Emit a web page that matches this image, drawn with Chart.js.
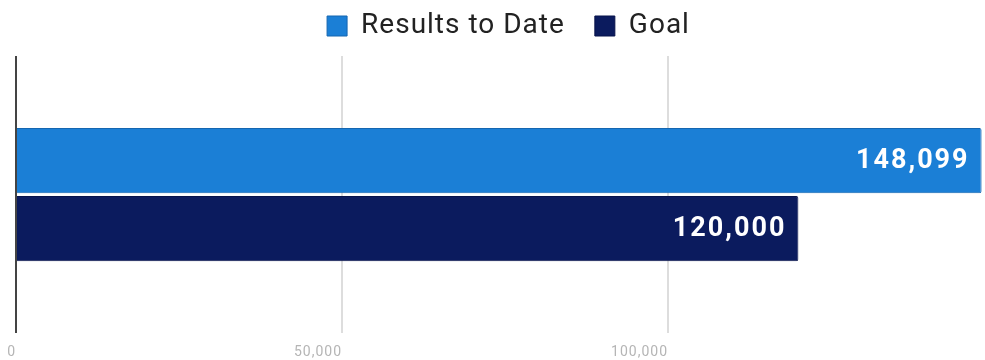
<!DOCTYPE html>
<html>
<head>
<meta charset="utf-8">
<script src="https://cdn.jsdelivr.net/npm/chart.js@4/dist/chart.umd.min.js"></script>
<style>
  html, body { margin: 0; padding: 0; background: #fff; overflow: hidden; }
  #wrap { width: 1012px; height: 360px; position: relative; }
</style>
</head>
<body>
<div id="wrap"><canvas id="c"></canvas></div>
<script>
const categories = ['Total'];
const seriesNames = ['Results to Date', 'Goal'];
const resultsToDate = [148099];
const goal = [120000];
const tickLabels = { 0: '0', 50000: '50,000', 100000: '100,000' };
const axisMax = 150000;

const colors = ['#1b7fd6', '#0b1b5e'];
const borders = ['#1566b0', '#07124a'];

const valueLabels = {
  id: 'valueLabels',
  afterDatasetsDraw(chart) {
    const ctx = chart.ctx;
    ctx.save();
    ctx.letterSpacing = '2px';
    ctx.font = 'bold 27px Roboto';
    ctx.fillStyle = '#ffffff';
    ctx.textAlign = 'right';
    ctx.textBaseline = 'middle';
    chart.data.datasets.forEach((ds, i) => {
      const meta = chart.getDatasetMeta(i);
      meta.data.forEach((bar, j) => {
        const v = ds.data[j];
        ctx.fillText(v.toLocaleString('en-US'), bar.x - 12, bar.y + 1);
      });
    });
    ctx.restore();
  }
};

const spacing = {
  id: 'spacing',
  beforeInit(chart) {
    const orig = chart.legend.fit;
    chart.legend.fit = function () {
      orig.call(this);
      this.height = 74;
    };
  },
  afterLayout(chart) {
    chart.legend.left -= 6;
    chart.legend.right -= 6;
  },
  beforeDraw(chart) {
    chart.ctx.letterSpacing = '1px';
  }
};

new Chart(document.getElementById('c'), {
  type: 'bar',
  data: {
    labels: categories,
    datasets: [
      { label: seriesNames[0], data: resultsToDate, backgroundColor: colors[0], borderColor: borders[0], borderWidth: 1, borderRadius: 2, borderSkipped: 'start' },
      { label: seriesNames[1], data: goal, backgroundColor: colors[1], borderColor: borders[1], borderWidth: 1, borderRadius: 2, borderSkipped: 'start' }
    ]
  },
  options: {
    indexAxis: 'y',
    responsive: true,
    maintainAspectRatio: false,
    animation: false,
    layout: { padding: { left: 16, right: 18, top: -18, bottom: -12 } },
    datasets: { bar: { categoryPercentage: 0.49, barPercentage: 0.96 } },
    plugins: {
      legend: {
        display: true,
        position: 'top',
        labels: {
          boxWidth: 20,
          boxHeight: 20,
          padding: 30,
          color: '#222222',
          font: { family: 'Roboto', size: 28 }
        }
      },
      tooltip: { enabled: false }
    },
    scales: {
      x: {
        min: 0,
        max: axisMax,
        afterFit: (s) => { s.paddingLeft = 0; s.paddingRight = 0; },
        ticks: {
          stepSize: 50000,
          align: 'end',
          padding: 11,
          color: '#b5b5b5',
          font: { family: 'Roboto', size: 14 },
          callback: (v) => (tickLabels[v] !== undefined ? tickLabels[v] : '')
        },
        grid: {
          drawTicks: false,
          lineWidth: 2,
          color: (c) => (c.tick && c.tick.value === 0 ? '#444444' : '#dddddd')
        },
        border: { display: false }
      },
      y: { display: false }
    }
  },
  plugins: [valueLabels, spacing]
});
</script>
</body>
</html>
